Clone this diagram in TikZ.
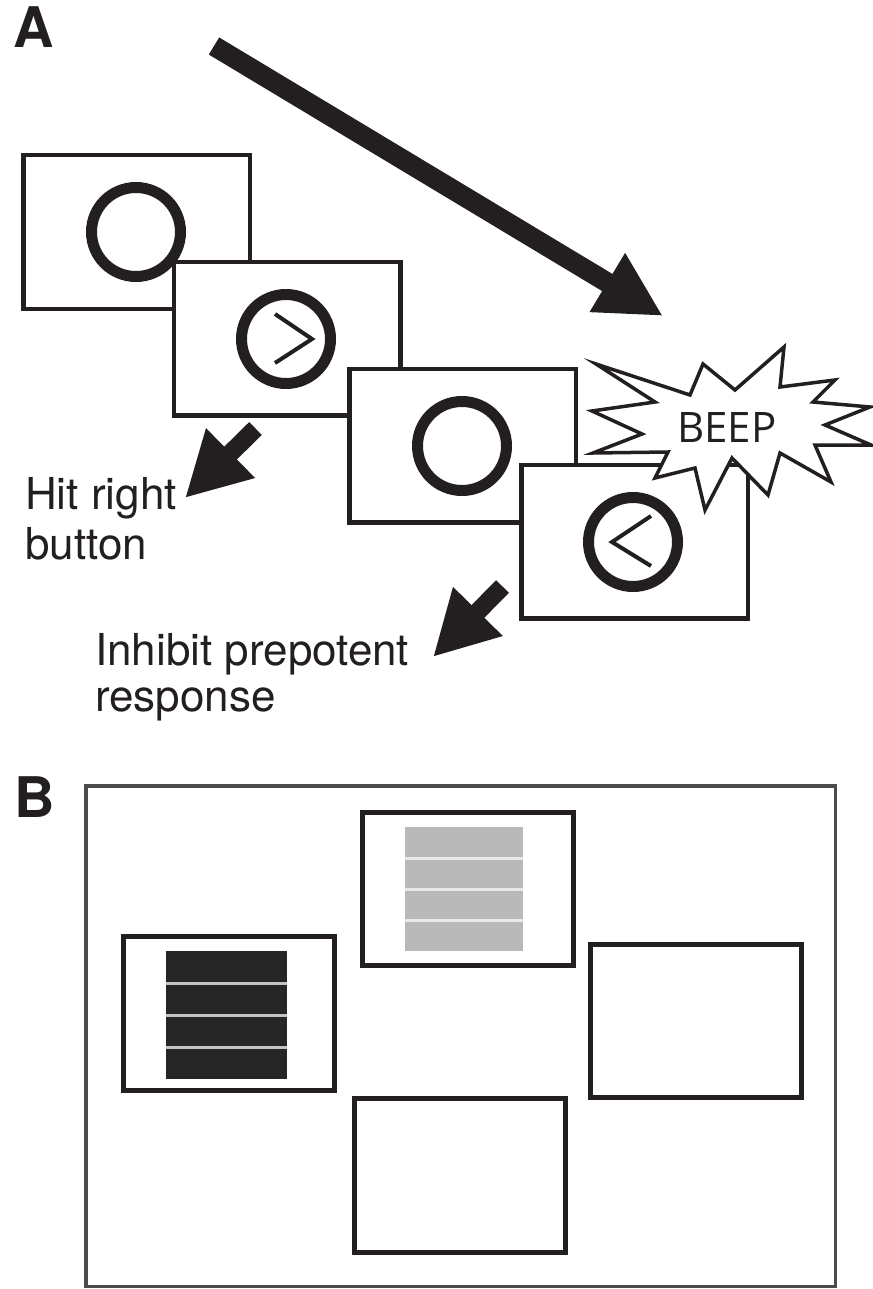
\documentclass[tikz,border=0pt]{standalone}
\usepackage{fontspec}
\setmainfont{TeX Gyre Heros}
\newfontfamily\beepfont{Open Sans}
\usetikzlibrary{arrows.meta}
\definecolor{ink}{RGB}{35,31,32}
\definecolor{framegray}{RGB}{75,75,75}
\definecolor{darkblock}{RGB}{38,38,38}
\definecolor{lightblock}{RGB}{185,185,185}
\definecolor{sepdark}{RGB}{195,195,195}
\definecolor{seplight}{RGB}{232,232,232}
\begin{document}
\begin{tikzpicture}[x=1pt,y=-1pt,
  screen/.style={draw=ink, line width=4.5pt, fill=white, rectangle, inner sep=0pt, minimum width=226.5pt, minimum height=153.5pt},
  ring/.style={draw=ink, line width=11pt, circle, inner sep=0pt, minimum size=89pt},
  chev/.style={draw=ink, line width=4pt, line cap=butt, line join=miter},
  bigarrow/.style={draw=ink, line width=20pt, -{Triangle[length=65pt,width=64pt]}},
  smallarrow/.style={draw=ink, line width=18pt, -{Triangle[length=64pt,width=65pt]}},
  lbl/.style={text=ink, align=left, inner sep=0pt, anchor=base west},
  panel/.style={font=\bfseries\fontsize{56}{56}\selectfont, text=ink, inner sep=0pt, anchor=base west},
  burst/.style={draw=ink, line width=3.5pt, fill=white, line join=miter},
  beep/.style={font=\beepfont\fontsize{42}{42}\selectfont, text=ink, inner sep=0pt, anchor=base},
  bbox/.style={draw=ink, line width=5pt, fill=white, rectangle, inner sep=0pt, minimum width=211pt, minimum height=153.5pt},
]
\useasboundingbox (0,0) rectangle (872,1289);

% ---------- Panel A ----------
\node[panel] (A) at (13,48) {A};

\coordinate (bigS) at (214,46);
\coordinate (bigE) at (663,316);
\draw[bigarrow] (bigS) -- (bigE);

\node[screen] (s1) at (136.5,232) {};
\node[ring] (c1) at (136,232) {};

\node[screen] (s2) at (287,338.5) {};
\node[ring] (c2) at (286,339) {};
\draw[chev] (c2.center) ++(-11,-25) -- ++(37,25) -- ++(-37,24);

\node[screen] (s3) at (462.5,445.5) {};
\node[ring] (c3) at (462,446) {};

\node[screen] (s4) at (634.5,541.5) {};
\node[ring] (c4) at (633,542) {};
\draw[chev] (c4.center) ++(18,-26) -- ++(-39,26) -- ++(39,24);

\draw[burst] (596,364) -- (690,395) -- (703,364) -- (735,390) -- (784,347)
  -- (780,387) -- (835,380) -- (813,402) -- (870,407) -- (825,425)
  -- (871,445) -- (815,445) -- (831,482) -- (780,453) -- (768,495)
  -- (732,458) -- (705,510) -- (695,468) -- (655,478) -- (668,452)
  -- (593,453) -- (642,434) -- (592,411) -- (655,402) -- cycle;
\node[beep] (beeptext) at (727,442) {BEEP};

\coordinate (a1s) at (255.5,428.5);
\coordinate (a1e) at (185,498);
\draw[smallarrow] (a1s) -- (a1e);
\node[lbl, font=\fontsize{44}{50}\selectfont] (hit) at (25,559) {Hit right\\button};

\coordinate (a2s) at (502.5,586.5);
\coordinate (a2e) at (433,657);
\draw[smallarrow] (a2s) -- (a2e);
\node[lbl, font=\fontsize{44}{46}\selectfont] (inh) at (95,711) {Inhibit prepotent\\response};

% ---------- Panel B ----------
\node[panel] (B) at (14,817) {B};
\node[draw=framegray, line width=3.5pt, rectangle, inner sep=0pt,
      minimum width=749.5pt, minimum height=500.5pt] (frame) at (460.5,1036) {};

\node[bbox] (bl) at (229,1013.5) {};
\fill[darkblock] (166,951) rectangle (287,1079);
\foreach \yy in {983,1015,1047}
  \fill[sepdark] (166,\yy-1.5) rectangle (287,\yy+1.5);

\node[bbox] (bt) at (467.5,889) {};
\fill[lightblock] (405,827) rectangle (523,951);
\foreach \yy in {858,889,920}
  \fill[seplight] (405,\yy-1.5) rectangle (523,\yy+1.5);

\node[bbox] (br) at (696,1021) {};
\node[bbox] (bb) at (460,1175.5) {};
\end{tikzpicture}
\end{document}
